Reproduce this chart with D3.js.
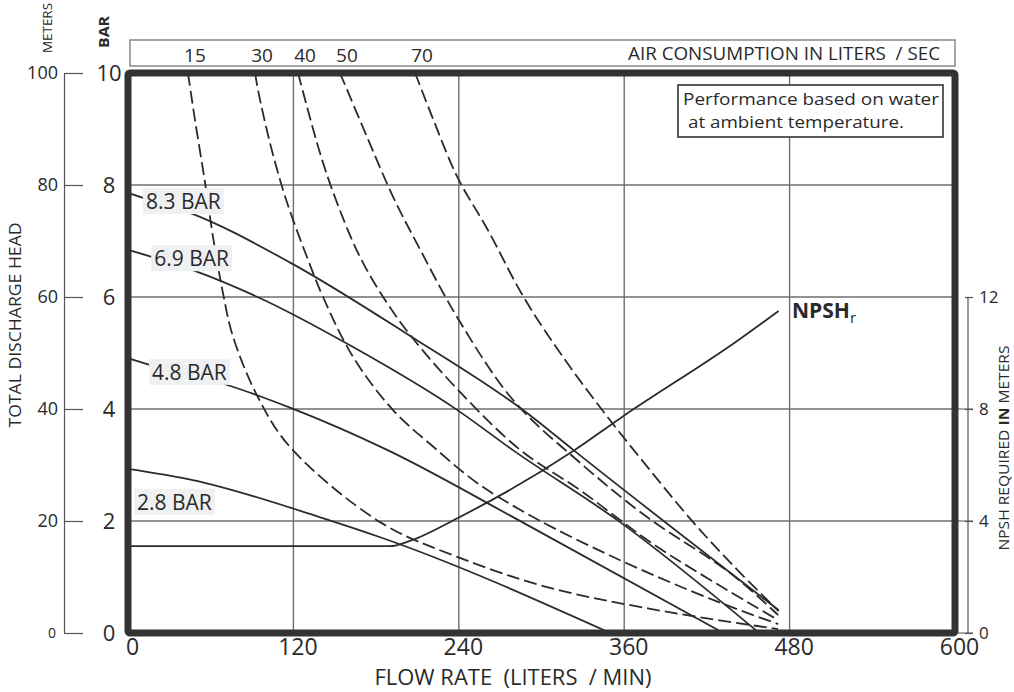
<!DOCTYPE html>
<html>
<head>
<meta charset="utf-8">
<script src="https://cdn.jsdelivr.net/npm/d3@7"></script>
<style>
  body { margin: 0; background: #fff; }
  text { font-family: "Open Sans", sans-serif; fill: #2a2a2a; }
</style>
</head>
<body>
<svg id="chart" width="1014" height="692"></svg>
<script>
// ticks
const flowTicks = [0, 120, 240, 360, 480, 600];
const barTicks = [0, 2, 4, 6, 8, 10];
const meterTicks = [0, 20, 40, 60, 80, 100];
const npshTicks = [0, 4, 8, 12];

// pressure curves: [flow l/min, head bar]
const pressureNames = ["8.3 BAR", "6.9 BAR", "4.8 BAR", "2.8 BAR"];
const bar83 = [[0,7.86],[11,7.77],[43,7.52],[118,6.61],[205,5.3],[290,3.92],[323,3.27],[472,0.41]];
const bar69 = [[0,6.84],[47,6.48],[94,6.0],[163,5.11],[239,3.98],[279,3.27],[357,1.98],[458,0]];
const bar48 = [[0,4.91],[14,4.8],[68,4.46],[118,4.02],[188,3.27],[283,2.02],[432,0]];
const bar28 = [[0,2.93],[47,2.73],[139,2.07],[183,1.71],[350,0]];
// where each label sits, in data units (flow, bar)
const pressureLabelAt = [[13,7.57],[19,6.55],[17.4,4.52],[6.5,2.2]];

// air consumption curves (l/sec)
const airNames = ["15", "30", "40", "50", "70"];
const air15 = [[43.5,10],[48.6,9.16],[55.9,8.04],[61.7,7.07],[68.9,6.07],[76.2,5.29],[94.3,4.21],[117.6,3.32],[182.9,1.98],[238.8,1.36],[304,0.82],[383.9,0.41],[471.7,0.07]];
const air30 = [[92.2,10],[94.3,9.7],[103,8.75],[112.5,7.91],[119,7.43],[129.9,6.71],[141.5,6.0],[163.3,4.93],[192.3,3.98],[221.3,3.33],[253.3,2.68],[293.9,2.07],[357,1.3],[424.5,0.59],[471.7,0.16]];
const air40 = [[123.4,10],[139.3,8.57],[151.7,7.68],[168.4,6.71],[188,5.89],[207,5.25],[241,4.3],[284.5,3.27],[328,2.55],[383.9,1.54],[471.7,0.23]];
const air50 = [[153.8,10],[173.4,8.86],[192.3,7.79],[211.9,6.85],[238.8,5.64],[279.4,4.16],[328,3.04],[376.6,2.07],[436.9,1.07],[471.7,0.32]];
const air70 = [[208.3,10],[221,9.2],[239,8.14],[261,7.2],[287,6.0],[315,4.95],[345,3.95],[378,2.93],[410,1.98],[440,1.18],[472,0.39]];

// NPSH required: [flow, meters]
const npsh = [[0,3.1],[190,3.1],[205,3.3],[239,4.1],[323,6.5],[358,7.7],[444,10.5],[472,11.5]];

const ink = "#2b2b2b";
const svg = d3.select("#chart");

const x = d3.scaleLinear().domain([0, 600]).range([128, 955]);
const yBar = d3.scaleLinear().domain([0, 10]).range([633, 73]);
const yM = d3.scaleLinear().domain([0, 100]).range([633, 73]);
const yN = d3.scaleLinear().domain([0, 20]).range([633, 73]);

// grid
svg.append("g").selectAll("line")
    .data(flowTicks.filter(d => d > 0 && d < 600))
    .join("line")
    .attr("x1", d => x(d)).attr("x2", d => x(d))
    .attr("y1", yBar(10)).attr("y2", yBar(0))
    .attr("stroke", "#6e6e6e").attr("stroke-width", 1.4);
svg.append("g").selectAll("line")
    .data(barTicks.filter(d => d > 0 && d < 10))
    .join("line")
    .attr("x1", x(0)).attr("x2", x(600))
    .attr("y1", d => yBar(d)).attr("y2", d => yBar(d))
    .attr("stroke", "#6e6e6e").attr("stroke-width", 1.4);
// grid continues out to the npsh axis
svg.append("g").selectAll("line")
    .data(npshTicks.filter(d => d < 12))
    .join("line")
    .attr("x1", x(600)).attr("x2", 973)
    .attr("y1", d => yN(d)).attr("y2", d => yN(d))
    .attr("stroke", "#6e6e6e").attr("stroke-width", 1.2);

const line = d3.line().x(d => x(d[0])).y(d => yBar(d[1])).curve(d3.curveMonotoneX);
const smooth = d3.line().x(d => x(d[0])).y(d => yBar(d[1])).curve(d3.curveCatmullRom.alpha(0.5));

svg.append("g").selectAll("path")
    .data([air15, air30, air40, air50, air70])
    .join("path")
    .attr("d", smooth)
    .attr("fill", "none").attr("stroke", ink).attr("stroke-width", 1.8)
    .attr("stroke-dasharray", "13,5");

svg.append("g").selectAll("path")
    .data([bar83, bar69, bar48, bar28])
    .join("path")
    .attr("d", line)
    .attr("fill", "none").attr("stroke", ink).attr("stroke-width", 1.8);

svg.append("path")
    .datum(npsh)
    .attr("d", d3.line().x(d => x(d[0])).y(d => yN(d[1])).curve(d3.curveMonotoneX))
    .attr("fill", "none").attr("stroke", ink).attr("stroke-width", 1.8);

// pressure labels with their light backing
pressureNames.forEach((name, i) => {
    const g = svg.append("g");
    const t = g.append("text")
        .attr("x", x(pressureLabelAt[i][0]))
        .attr("y", yBar(pressureLabelAt[i][1]))
        .attr("font-size", 21)
        .text(name);
    const b = t.node().getBBox();
    g.insert("rect", "text")
        .attr("x", b.x - 3).attr("y", b.y + 1)
        .attr("width", b.width + 6).attr("height", b.height - 2)
        .attr("fill", "#eef0f2");
});

// frame
svg.append("rect")
    .attr("x", x(0)).attr("y", yBar(10))
    .attr("width", x(600) - x(0)).attr("height", yBar(0) - yBar(10))
    .attr("fill", "none").attr("stroke", "#333").attr("stroke-width", 7).attr("rx", 2);

// meters axis
const mAxis = svg.append("g").attr("transform", "translate(64,0)")
    .call(d3.axisLeft(yM).tickValues(meterTicks).tickSize(-19).tickSizeOuter(0).tickPadding(6));
mAxis.select(".domain").attr("stroke", "#555").attr("stroke-width", 1.2);
mAxis.selectAll(".tick line").attr("stroke", "#555").attr("stroke-width", 1.2);
mAxis.selectAll("text").attr("font-family", "Open Sans").attr("font-size", 18).attr("fill", ink)
    .filter(d => d === 0).attr("font-size", 14).attr("dx", -2);

// bar axis (labels only)
const bAxis = svg.append("g").attr("transform", "translate(109,0)")
    .call(d3.axisLeft(yBar).tickValues(barTicks).tickSize(0).tickPadding(0));
bAxis.select(".domain").remove();
bAxis.selectAll("text").attr("font-family", "Open Sans").attr("font-size", 22)
    .attr("fill", ink).attr("text-anchor", "middle");

// flow axis
const fAxis = svg.append("g").attr("transform", `translate(4,${yBar(0)})`)
    .call(d3.axisBottom(x).tickValues(flowTicks).tickSize(0).tickPadding(6));
fAxis.select(".domain").remove();
fAxis.selectAll("text").attr("font-family", "Open Sans").attr("font-size", 23).attr("fill", ink);

// npsh axis
const nAxis = svg.append("g").attr("transform", "translate(968,0)")
    .call(d3.axisRight(yN).tickValues(npshTicks).tickSize(5).tickSizeOuter(0).tickPadding(6));
nAxis.select(".domain").attr("d", `M0,${yN(12)}V${yN(0)}`).attr("stroke", "#555").attr("stroke-width", 1.2);
nAxis.selectAll(".tick line").attr("stroke", "#555").attr("x1", -3).attr("stroke-width", 1.2);
nAxis.selectAll("text").attr("font-family", "Open Sans").attr("font-size", 17).attr("fill", ink);

// air consumption strip
svg.append("rect")
    .attr("x", 130).attr("y", 40).attr("width", 825).attr("height", 26)
    .attr("fill", "none").attr("stroke", "#888").attr("stroke-width", 1.5);
svg.append("g").selectAll("text")
    .data([air15, air30, air40, air50, air70])
    .join("text")
    .attr("x", d => x(d[0][0]) + 7)
    .attr("y", 62)
    .attr("text-anchor", "middle")
    .attr("font-size", 19)
    .text((d, i) => airNames[i]);
svg.append("text")
    .attr("x", 940).attr("y", 60).attr("text-anchor", "end")
    .attr("font-size", 19).attr("textLength", 312).attr("lengthAdjust", "spacingAndGlyphs")
    .style("white-space", "pre")
    .text("AIR CONSUMPTION IN LITERS  / SEC");

// note box
svg.append("rect")
    .attr("x", 678).attr("y", 85).attr("width", 265).attr("height", 52)
    .attr("fill", "#fff").attr("stroke", "#333").attr("stroke-width", 1.6);
svg.append("text").attr("x", 683).attr("y", 105).attr("font-size", 17)
    .attr("textLength", 256).attr("lengthAdjust", "spacingAndGlyphs")
    .text("Performance based on water");
svg.append("text").attr("x", 688).attr("y", 128).attr("font-size", 17)
    .attr("textLength", 216).attr("lengthAdjust", "spacingAndGlyphs")
    .text("at ambient temperature.");

// NPSHr tag
const tag = svg.append("text").attr("x", 792).attr("y", 318)
    .attr("font-family", "Roboto").attr("font-weight", "bold").attr("font-size", 21);
tag.append("tspan").text("NPSH");
tag.append("tspan").attr("font-size", 15).attr("dy", 5).attr("font-weight", "normal").text("r");

// axis titles
svg.append("text").attr("x", 513).attr("y", 685).attr("text-anchor", "middle")
    .attr("font-size", 22).attr("textLength", 277).attr("lengthAdjust", "spacingAndGlyphs")
    .style("white-space", "pre")
    .text("FLOW RATE  (LITERS  / MIN)");

svg.append("text").attr("transform", "translate(21,325) rotate(-90)")
    .attr("text-anchor", "middle").attr("font-family", "Roboto").attr("font-size", 16)
    .attr("textLength", 205).attr("lengthAdjust", "spacingAndGlyphs")
    .text("TOTAL DISCHARGE HEAD");

svg.append("text").attr("transform", "translate(52,28) rotate(-90)")
    .attr("text-anchor", "middle").attr("font-family", "Roboto").attr("font-size", 12)
    .attr("textLength", 50).attr("lengthAdjust", "spacingAndGlyphs")
    .text("METERS");

svg.append("text").attr("transform", "translate(109,32) rotate(-90)")
    .attr("text-anchor", "middle").attr("font-family", "Roboto").attr("font-weight", "bold")
    .attr("font-size", 15).attr("textLength", 32).attr("lengthAdjust", "spacingAndGlyphs")
    .text("BAR");

const nt = svg.append("text").attr("transform", "translate(1009,448) rotate(-90)")
    .attr("text-anchor", "middle").attr("font-family", "Roboto").attr("font-size", 15)
    .attr("textLength", 205).attr("lengthAdjust", "spacingAndGlyphs");
nt.append("tspan").text("NPSH REQUIRED ");
nt.append("tspan").attr("font-weight", "bold").text("IN");
nt.append("tspan").text(" METERS");
</script>
</body>
</html>
